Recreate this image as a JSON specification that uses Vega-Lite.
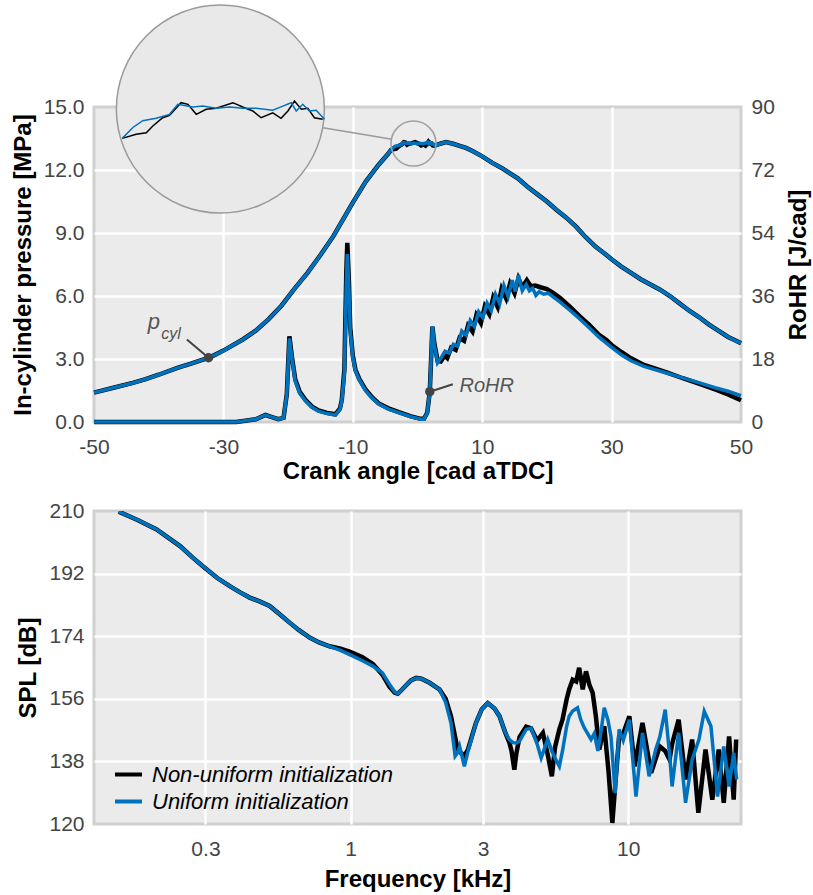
{
"$schema":"https://vega.github.io/schema/vega-lite/v6.json",
"padding":{"left":9,"top":0,"right":5,"bottom":5},
"background":"white",
"spacing":89,
"bounds":"flush",
"config":{
 "font":"Liberation Sans",
 "view":{"fill":"#ebebeb","stroke":"#d0d0d0","strokeWidth":3},
 "axis":{"domain":false,"ticks":false,"gridColor":"white","gridWidth":2.5,"gridOpacity":1,"labelFontSize":21,"labelColor":"#444444","labelFont":"Liberation Sans","titleFont":"Liberation Sans","titleFontSize":24,"titleFontWeight":"bold","titleColor":"black","labelFlush":false,"labelOverlap":false}
},
"datasets":{
 "pN":[{"ca":-50,"p":1.40},{"ca":-47,"p":1.63},{"ca":-44,"p":1.86},{"ca":-42,"p":2.04},{"ca":-40,"p":2.25},{"ca":-37,"p":2.59},{"ca":-35,"p":2.78},{"ca":-32,"p":3.09},{"ca":-30,"p":3.40},{"ca":-27,"p":3.93},{"ca":-25,"p":4.35},{"ca":-23,"p":4.9},{"ca":-21,"p":5.55},{"ca":-19,"p":6.35},{"ca":-17,"p":7.1},{"ca":-15,"p":7.95},{"ca":-13,"p":8.85},{"ca":-11.5,"p":9.65},{"ca":-10,"p":10.45},{"ca":-8,"p":11.45},{"ca":-6,"p":12.25},{"ca":-4.6,"p":12.75},
  {"ca":-4.1,"p":12.958},{"ca":-3.63,"p":13.0},{"ca":-3.29,"p":13.016},{"ca":-3.07,"p":13.085},{"ca":-2.74,"p":13.17},{"ca":-2.51,"p":13.195},{"ca":-2.12,"p":13.325},{"ca":-1.89,"p":13.308},{"ca":-1.61,"p":13.205},{"ca":-1.28,"p":13.257},{"ca":-0.94,"p":13.267},{"ca":-0.38,"p":13.325},{"ca":-0.05,"p":13.28},{"ca":0.29,"p":13.24},{"ca":0.57,"p":13.17},{"ca":0.96,"p":13.22},{"ca":1.24,"p":13.164},{"ca":1.47,"p":13.24},{"ca":1.69,"p":13.342},{"ca":1.92,"p":13.257},{"ca":2.14,"p":13.267},{"ca":2.36,"p":13.17},{"ca":2.64,"p":13.154},
  {"ca":3.5,"p":13.25},{"ca":4.4,"p":13.33},{"ca":5.5,"p":13.25},{"ca":6.5,"p":13.15},{"ca":7.5,"p":13.05},{"ca":8.5,"p":12.9},{"ca":10,"p":12.65},{"ca":11.5,"p":12.35},{"ca":13,"p":12.1},{"ca":14,"p":11.9},{"ca":15.5,"p":11.6},{"ca":17,"p":11.2},{"ca":18.5,"p":10.85},{"ca":20,"p":10.5},{"ca":21.5,"p":10.1},{"ca":23,"p":9.73},{"ca":24.5,"p":9.3},{"ca":26,"p":8.8},{"ca":27.5,"p":8.35},{"ca":29,"p":8.0},{"ca":30,"p":7.75},{"ca":31.5,"p":7.4},{"ca":33,"p":7.1},{"ca":34.5,"p":6.8},{"ca":36,"p":6.55},{"ca":37.5,"p":6.3},{"ca":39,"p":6.0},{"ca":40.5,"p":5.65},{"ca":42,"p":5.3},{"ca":43.5,"p":5.0},{"ca":45,"p":4.65},{"ca":46.5,"p":4.35},{"ca":48,"p":4.05},{"ca":49,"p":3.9},{"ca":50,"p":3.75}],
 "pU":[{"ca":-50,"p":1.40},{"ca":-47,"p":1.63},{"ca":-44,"p":1.86},{"ca":-42,"p":2.04},{"ca":-40,"p":2.25},{"ca":-37,"p":2.59},{"ca":-35,"p":2.78},{"ca":-32,"p":3.09},{"ca":-30,"p":3.40},{"ca":-27,"p":3.93},{"ca":-25,"p":4.35},{"ca":-23,"p":4.9},{"ca":-21,"p":5.55},{"ca":-19,"p":6.35},{"ca":-17,"p":7.1},{"ca":-15,"p":7.95},{"ca":-13,"p":8.85},{"ca":-11.5,"p":9.65},{"ca":-10,"p":10.45},{"ca":-8,"p":11.45},{"ca":-6,"p":12.25},{"ca":-4.6,"p":12.75},
  {"ca":-4.1,"p":12.958},{"ca":-3.74,"p":13.07},{"ca":-3.41,"p":13.14},{"ca":-2.96,"p":13.164},{"ca":-2.51,"p":13.205},{"ca":-2.23,"p":13.308},{"ca":-1.73,"p":13.28},{"ca":-1.39,"p":13.29},{"ca":-0.94,"p":13.267},{"ca":-0.49,"p":13.28},{"ca":-0.05,"p":13.267},{"ca":0.40,"p":13.267},{"ca":0.96,"p":13.247},{"ca":1.30,"p":13.29},{"ca":1.58,"p":13.325},{"ca":1.75,"p":13.24},{"ca":1.97,"p":13.308},{"ca":2.19,"p":13.24},{"ca":2.42,"p":13.247},{"ca":2.7,"p":13.154},
  {"ca":3.5,"p":13.25},{"ca":4.4,"p":13.33},{"ca":5.5,"p":13.25},{"ca":6.5,"p":13.15},{"ca":7.5,"p":13.05},{"ca":8.5,"p":12.9},{"ca":10,"p":12.65},{"ca":11.5,"p":12.35},{"ca":13,"p":12.1},{"ca":14,"p":11.9},{"ca":15.5,"p":11.6},{"ca":17,"p":11.2},{"ca":18.5,"p":10.85},{"ca":20,"p":10.5},{"ca":21.5,"p":10.1},{"ca":23,"p":9.73},{"ca":24.5,"p":9.3},{"ca":26,"p":8.8},{"ca":27.5,"p":8.35},{"ca":29,"p":8.0},{"ca":30,"p":7.75},{"ca":31.5,"p":7.4},{"ca":33,"p":7.1},{"ca":34.5,"p":6.8},{"ca":36,"p":6.55},{"ca":37.5,"p":6.3},{"ca":39,"p":6.0},{"ca":40.5,"p":5.65},{"ca":42,"p":5.3},{"ca":43.5,"p":5.0},{"ca":45,"p":4.65},{"ca":46.5,"p":4.35},{"ca":48,"p":4.05},{"ca":49,"p":3.9},{"ca":50,"p":3.75}],
 "qN":[{"ca":-50,"q":0},{"ca":-28,"q":0},{"ca":-25,"q":0.8},{"ca":-23.5,"q":2.0},{"ca":-22.5,"q":1.4},{"ca":-21.5,"q":0.8},{"ca":-20.7,"q":1.2},{"ca":-20.2,"q":8},{"ca":-19.8,"q":24.5},{"ca":-19.4,"q":18.5},{"ca":-18.9,"q":12.2},{"ca":-18.2,"q":8.6},{"ca":-17.3,"q":6.3},{"ca":-16.3,"q":4.4},{"ca":-15.3,"q":3.3},{"ca":-14,"q":2.6},{"ca":-12.7,"q":2.2},{"ca":-12,"q":3.8},{"ca":-11.7,"q":6.3},{"ca":-11.3,"q":15},{"ca":-11.0,"q":43},{"ca":-10.85,"q":51.2},{"ca":-10.6,"q":40},{"ca":-10.4,"q":27},{"ca":-10.0,"q":19},{"ca":-9.6,"q":15},{"ca":-9.0,"q":12.3},{"ca":-8.0,"q":9.2},{"ca":-7,"q":7},{"ca":-6.0,"q":5.3},{"ca":-4.5,"q":3.9},{"ca":-2.9,"q":2.8},{"ca":-1,"q":1.6},{"ca":0.5,"q":0.9},{"ca":1.0,"q":0.9},{"ca":1.5,"q":2.6},{"ca":1.9,"q":8.6},{"ca":2.1,"q":18},{"ca":2.3,"q":27.2},{"ca":2.6,"q":22.5},{"ca":3.1,"q":17.5},{"ca":3.6,"q":17.3},{"ca":4.2,"q":19.0},{"ca":4.6,"q":18.3},{"ca":5.2,"q":21.2},{"ca":5.9,"q":20.6},{"ca":6.5,"q":24.0},{"ca":7.2,"q":23.2},{"ca":7.8,"q":27.5},{"ca":8.5,"q":25.8},{"ca":9.1,"q":30.5},{"ca":9.8,"q":28.3},{"ca":10.4,"q":33.0},{"ca":11.1,"q":30.8},{"ca":11.7,"q":35.5},{"ca":12.4,"q":32.8},{"ca":13.0,"q":38.0},{"ca":13.7,"q":35.3},{"ca":14.3,"q":39.5},{"ca":15.0,"q":36.8},{"ca":15.6,"q":41.0},{"ca":16.2,"q":38.5},{"ca":16.9,"q":40.5},{"ca":17.5,"q":38.8},{"ca":18.2,"q":39.0},{"ca":19.0,"q":38.5},{"ca":20.0,"q":38.0},{"ca":20.9,"q":37.0},{"ca":22,"q":35.5},{"ca":23.5,"q":33.0},{"ca":25,"q":30.3},{"ca":26.5,"q":27.8},{"ca":28,"q":25.0},{"ca":29.2,"q":23.4},{"ca":30.0,"q":22.0},{"ca":31.5,"q":20.0},{"ca":33,"q":18.2},{"ca":35,"q":16.3},{"ca":38.5,"q":14.2},{"ca":41,"q":12.5},{"ca":43.6,"q":10.9},{"ca":46,"q":9.3},{"ca":48,"q":7.9},{"ca":50,"q":6.2}],
 "qU":[{"ca":-50,"q":0},{"ca":-28,"q":0},{"ca":-25,"q":0.8},{"ca":-23.5,"q":2.0},{"ca":-22.5,"q":1.4},{"ca":-21.5,"q":0.8},{"ca":-20.7,"q":1.2},{"ca":-20.2,"q":8},{"ca":-19.8,"q":23.9},{"ca":-19.4,"q":18},{"ca":-18.9,"q":11.7},{"ca":-18.2,"q":8.2},{"ca":-17.3,"q":6},{"ca":-16.3,"q":4.2},{"ca":-15.3,"q":3.1},{"ca":-14,"q":2.4},{"ca":-12.7,"q":2.0},{"ca":-12,"q":3.5},{"ca":-11.7,"q":6},{"ca":-11.3,"q":14},{"ca":-11.0,"q":40},{"ca":-10.85,"q":48},{"ca":-10.6,"q":38},{"ca":-10.4,"q":26},{"ca":-10.0,"q":18.5},{"ca":-9.6,"q":14.6},{"ca":-9.0,"q":12},{"ca":-8.0,"q":8.9},{"ca":-7,"q":6.8},{"ca":-6.0,"q":5.1},{"ca":-4.5,"q":3.7},{"ca":-2.9,"q":2.7},{"ca":-1,"q":1.5},{"ca":0.5,"q":0.8},{"ca":1.0,"q":0.8},{"ca":1.5,"q":2.5},{"ca":1.9,"q":8.6},{"ca":2.1,"q":18},{"ca":2.3,"q":27.4},{"ca":2.6,"q":22},{"ca":3.1,"q":16.9},{"ca":3.6,"q":18.2},{"ca":4.25,"q":20.2},{"ca":4.9,"q":19.7},{"ca":5.55,"q":22.2},{"ca":6.2,"q":21.7},{"ca":6.85,"q":26.0},{"ca":7.5,"q":24.8},{"ca":8.15,"q":29.0},{"ca":8.8,"q":27.3},{"ca":9.45,"q":31.5},{"ca":10.1,"q":29.8},{"ca":10.75,"q":34.0},{"ca":11.4,"q":31.8},{"ca":12.05,"q":36.5},{"ca":12.7,"q":33.8},{"ca":13.35,"q":39.0},{"ca":14.0,"q":35.8},{"ca":14.65,"q":40.5},{"ca":15.1,"q":37.3},{"ca":15.6,"q":42.0},{"ca":16.2,"q":37.5},{"ca":16.8,"q":39.3},{"ca":17.3,"q":37.5},{"ca":17.8,"q":38.2},{"ca":18.3,"q":36.2},{"ca":18.8,"q":37.2},{"ca":19.5,"q":36.5},{"ca":20.2,"q":36.8},{"ca":20.9,"q":35.8},{"ca":22,"q":34.3},{"ca":23.5,"q":32.0},{"ca":25,"q":29.6},{"ca":26.5,"q":27.0},{"ca":28,"q":24.3},{"ca":30,"q":21.3},{"ca":31.5,"q":19.2},{"ca":33,"q":17.5},{"ca":35,"q":15.9},{"ca":38.5,"q":14.0},{"ca":41,"q":12.6},{"ca":43.6,"q":11.2},{"ca":46,"q":9.8},{"ca":48,"q":8.8},{"ca":50,"q":7.5}],
 "notes":[{"k":"big","ca":-0.8,"p":13.26},{"k":"small","ca":-0.62,"p":13.26},{"k":"conn","ca":-14.6,"p":14.01,"ca2":-3.95,"p2":13.46},{"k":"pdot","ca":-32.3,"p":3.06,"ca2":-35.65,"p2":3.93},{"k":"qdot","ca":1.9,"q":8.66,"ca2":5.46,"q2":10.8},{"k":"ptext","ca":-41.7,"p":4.45,"label":"p"},{"k":"psub","ca":-39.6,"p":3.97,"label":"cyl"},{"k":"qtext","ca":6.49,"q":8.7,"label":"RoHR"}],
 "sN":[{"f":0.146,"spl":209.8},{"f":0.17,"spl":207.5},{"f":0.2,"spl":204.7},{"f":0.243,"spl":199.9},{"f":0.27,"spl":196.6},{"f":0.298,"spl":193.7},{"f":0.33,"spl":190.8},{"f":0.367,"spl":188.4},{"f":0.4,"spl":186.6},{"f":0.433,"spl":185.1},{"f":0.47,"spl":184.0},{"f":0.511,"spl":182.7},{"f":0.55,"spl":180.6},{"f":0.603,"spl":177.9},{"f":0.65,"spl":175.8},{"f":0.712,"spl":173.6},{"f":0.77,"spl":172.2},{"f":0.84,"spl":171.1},{"f":0.92,"spl":170.4},{"f":0.992,"spl":169.6},{"f":1.1,"spl":168.0},{"f":1.203,"spl":166.0},{"f":1.3,"spl":163.0},{"f":1.38,"spl":159.5},{"f":1.44,"spl":157.8},{"f":1.48,"spl":157.5},{"f":1.53,"spl":158.6},{"f":1.586,"spl":159.9},{"f":1.65,"spl":161.3},{"f":1.724,"spl":162.0},{"f":1.8,"spl":161.8},{"f":1.925,"spl":160.6},{"f":2.09,"spl":158.7},{"f":2.2,"spl":156},{"f":2.3,"spl":151},{"f":2.38,"spl":145},{"f":2.43,"spl":141.5},{"f":2.5,"spl":140.4},{"f":2.57,"spl":139.6},{"f":2.65,"spl":141.5},{"f":2.83,"spl":149.1},{"f":2.97,"spl":153.0},{"f":3.12,"spl":154.8},{"f":3.3,"spl":153.2},{"f":3.44,"spl":151.0},{"f":3.6,"spl":146.5},{"f":3.73,"spl":143.5},{"f":3.8,"spl":141},{"f":3.89,"spl":135.6},{"f":3.95,"spl":140},{"f":4.06,"spl":145},{"f":4.29,"spl":148},{"f":4.47,"spl":147.5},{"f":4.7,"spl":144},{"f":4.93,"spl":146.2},{"f":5.13,"spl":140},{"f":5.31,"spl":133.7},{"f":5.45,"spl":142},{"f":5.65,"spl":147.2},{"f":5.8,"spl":150},{"f":6.0,"spl":155.8},{"f":6.13,"spl":158.7},{"f":6.31,"spl":161.5},{"f":6.5,"spl":161},{"f":6.66,"spl":164.9},{"f":6.86,"spl":158.7},{"f":7.05,"spl":163.9},{"f":7.25,"spl":160},{"f":7.45,"spl":157.7},{"f":7.65,"spl":151.0},{"f":7.87,"spl":141.4},{"f":8.2,"spl":148.1},{"f":8.5,"spl":135},{"f":8.77,"spl":120.3},{"f":9.0,"spl":132},{"f":9.28,"spl":145.2},{"f":9.6,"spl":146},{"f":10.1,"spl":151.0},{"f":10.55,"spl":136.6},{"f":11.26,"spl":149.1},{"f":12.1,"spl":134.7},{"f":12.99,"spl":142.3},{"f":13.6,"spl":141},{"f":14.1,"spl":138.5},{"f":14.4,"spl":143},{"f":15.2,"spl":150.0},{"f":16.1,"spl":132.8},{"f":17.0,"spl":144.3},{"f":17.9,"spl":123.2},{"f":19.0,"spl":141.4},{"f":20.1,"spl":127.0},{"f":21.2,"spl":141.4},{"f":22.1,"spl":126.1},{"f":23.1,"spl":145.2},{"f":24.0,"spl":127.0},{"f":24.5,"spl":144.3}],
 "sU":[{"f":0.146,"spl":209.8},{"f":0.17,"spl":207.5},{"f":0.2,"spl":204.7},{"f":0.243,"spl":199.9},{"f":0.27,"spl":196.6},{"f":0.298,"spl":193.7},{"f":0.33,"spl":190.8},{"f":0.367,"spl":188.4},{"f":0.4,"spl":186.6},{"f":0.433,"spl":185.1},{"f":0.47,"spl":184.0},{"f":0.511,"spl":182.7},{"f":0.55,"spl":180.6},{"f":0.603,"spl":177.9},{"f":0.65,"spl":175.8},{"f":0.712,"spl":173.6},{"f":0.77,"spl":172.2},{"f":0.84,"spl":171.1},{"f":0.92,"spl":169.9},{"f":0.992,"spl":168.7},{"f":1.1,"spl":167.0},{"f":1.203,"spl":165.4},{"f":1.3,"spl":163.5},{"f":1.38,"spl":160.2},{"f":1.44,"spl":158.0},{"f":1.48,"spl":157.5},{"f":1.53,"spl":158.6},{"f":1.586,"spl":159.9},{"f":1.65,"spl":161.3},{"f":1.724,"spl":162.0},{"f":1.8,"spl":161.8},{"f":1.925,"spl":160.6},{"f":2.09,"spl":158.7},{"f":2.2,"spl":155.0},{"f":2.3,"spl":149},{"f":2.38,"spl":139.5},{"f":2.43,"spl":140.5},{"f":2.47,"spl":142.3},{"f":2.57,"spl":136.6},{"f":2.65,"spl":141},{"f":2.83,"spl":149.1},{"f":2.97,"spl":153.0},{"f":3.12,"spl":154.8},{"f":3.3,"spl":153.2},{"f":3.44,"spl":151.0},{"f":3.6,"spl":146.5},{"f":3.73,"spl":144.3},{"f":3.85,"spl":143.4},{"f":3.95,"spl":143.3},{"f":4.06,"spl":143.8},{"f":4.29,"spl":147.2},{"f":4.47,"spl":147.6},{"f":4.7,"spl":143},{"f":4.86,"spl":139.0},{"f":5.13,"spl":144.3},{"f":5.31,"spl":141},{"f":5.45,"spl":139},{"f":5.65,"spl":136.6},{"f":5.8,"spl":141},{"f":6.0,"spl":148},{"f":6.13,"spl":151.0},{"f":6.31,"spl":152.5},{"f":6.57,"spl":153.4},{"f":6.75,"spl":150},{"f":6.95,"spl":147.6},{"f":7.15,"spl":146},{"f":7.35,"spl":144.3},{"f":7.55,"spl":146},{"f":7.78,"spl":141.0},{"f":8.0,"spl":147},{"f":8.2,"spl":153.4},{"f":8.45,"spl":150},{"f":8.67,"spl":145.2},{"f":8.98,"spl":128.9},{"f":9.28,"spl":147.2},{"f":9.6,"spl":144},{"f":10.1,"spl":150.0},{"f":10.67,"spl":127.9},{"f":11.26,"spl":146.2},{"f":11.9,"spl":133.7},{"f":12.57,"spl":141.4},{"f":13.0,"spl":145},{"f":13.6,"spl":152.9},{"f":14.1,"spl":140},{"f":14.4,"spl":130.8},{"f":15.2,"spl":146.2},{"f":16.1,"spl":126.1},{"f":17.0,"spl":138.5},{"f":17.99,"spl":144.3},{"f":18.8,"spl":152.4},{"f":19.87,"spl":148.1},{"f":21.0,"spl":127.9},{"f":22.1,"spl":142.3},{"f":23.1,"spl":130.8},{"f":24.0,"spl":140.4},{"f":24.6,"spl":132.8}]
},
"vconcat":[
 {
  "width":647,"height":315,
  "resolve":{"scale":{"x":"independent","y":"independent"}},
  "layer":[
   {"data":{"name":"pN"},"mark":{"type":"line","color":"black","strokeWidth":4.5},
    "encoding":{
     "x":{"field":"ca","type":"quantitative","scale":{"domain":[-50,50],"nice":false,"zero":false},
       "axis":{"orient":"bottom","values":[-50,-30,-10,10,30,50],"title":"Crank angle [cad aTDC]","labelExpr":"(datum.value < 0 ? '-' : '') + abs(datum.value)","labelPadding":14,"titlePadding":2,
         "gridColor":{"condition":{"test":"datum.value == -50 || datum.value == 50","value":"transparent"},"value":"white"}}},
     "y":{"field":"p","type":"quantitative","scale":{"domain":[0,15],"nice":false,"zero":false},
       "axis":{"orient":"left","values":[0,3,6,9,12,15],"format":".1f","title":"In-cylinder pressure [MPa]","labelPadding":10,"titlePadding":8,
         "gridColor":{"condition":{"test":"datum.value == 0 || datum.value == 15","value":"transparent"},"value":"white"}}}}},
   {"data":{"name":"pU"},"mark":{"type":"line","color":"#0072bd","strokeWidth":3.5},
    "encoding":{
     "x":{"field":"ca","type":"quantitative","scale":{"domain":[-50,50],"nice":false,"zero":false},"axis":null},
     "y":{"field":"p","type":"quantitative","scale":{"domain":[0,15],"nice":false,"zero":false},"axis":null}}},
   {"data":{"name":"qN"},"mark":{"type":"line","color":"black","strokeWidth":4.5},
    "encoding":{
     "x":{"field":"ca","type":"quantitative","scale":{"domain":[-50,50],"nice":false,"zero":false},"axis":null},
     "y":{"field":"q","type":"quantitative","scale":{"domain":[0,90],"nice":false,"zero":false},
       "axis":{"orient":"right","values":[0,18,36,54,72,90],"format":"d","grid":false,"title":"RoHR [J/cad]","titleAngle":270,"titleBaseline":"top","labelPadding":10,"titlePadding":12}}}},
   {"data":{"name":"qU"},"mark":{"type":"line","color":"#0072bd","strokeWidth":3.5},
    "encoding":{
     "x":{"field":"ca","type":"quantitative","scale":{"domain":[-50,50],"nice":false,"zero":false},"axis":null},
     "y":{"field":"q","type":"quantitative","scale":{"domain":[0,90],"nice":false,"zero":false},"axis":null}}},
   {"data":{"name":"notes"},"transform":[{"filter":"datum.k == 'conn'"}],
    "mark":{"type":"rule","color":"#9a9a9a","strokeWidth":1.5},
    "encoding":{
     "x":{"field":"ca","type":"quantitative","scale":{"domain":[-50,50],"nice":false,"zero":false},"axis":null},
     "x2":{"field":"ca2"},
     "y":{"field":"p","type":"quantitative","scale":{"domain":[0,15],"nice":false,"zero":false},"axis":null},
     "y2":{"field":"p2"}}},
   {"data":{"name":"notes"},"transform":[{"filter":"datum.k == 'big'"}],
    "mark":{"type":"point","shape":"circle","filled":true,"fill":"#e9e9e9","stroke":"#9a9a9a","strokeWidth":1.5,"opacity":1,"size":43264,"clip":false},
    "encoding":{
     "x":{"field":"ca","type":"quantitative","scale":{"domain":[-4.1,2.7],"range":[28.2,230.5],"nice":false,"zero":false},"axis":null},
     "y":{"field":"p","type":"quantitative","scale":{"domain":[12.19,14.33],"range":[106,-102],"nice":false,"zero":false},"axis":null}}},
   {"data":{"name":"pN"},"transform":[{"filter":{"field":"ca","range":[-4.1,2.7]}}],
    "mark":{"type":"line","color":"black","strokeWidth":1.5,"clip":false},
    "encoding":{
     "x":{"field":"ca","type":"quantitative","scale":{"domain":[-4.1,2.7],"range":[28.2,230.5],"nice":false,"zero":false},"axis":null},
     "y":{"field":"p","type":"quantitative","scale":{"domain":[12.19,14.33],"range":[106,-102],"nice":false,"zero":false},"axis":null}}},
   {"data":{"name":"pU"},"transform":[{"filter":{"field":"ca","range":[-4.1,2.7]}}],
    "mark":{"type":"line","color":"#0072bd","strokeWidth":1.5,"clip":false},
    "encoding":{
     "x":{"field":"ca","type":"quantitative","scale":{"domain":[-4.1,2.7],"range":[28.2,230.5],"nice":false,"zero":false},"axis":null},
     "y":{"field":"p","type":"quantitative","scale":{"domain":[12.19,14.33],"range":[106,-102],"nice":false,"zero":false},"axis":null}}},
   {"data":{"name":"notes"},"transform":[{"filter":"datum.k == 'small'"}],
    "mark":{"type":"point","shape":"circle","filled":false,"stroke":"#a0a0a0","strokeWidth":1.5,"opacity":1,"size":2025},
    "encoding":{
     "x":{"field":"ca","type":"quantitative","scale":{"domain":[-50,50],"nice":false,"zero":false},"axis":null},
     "y":{"field":"p","type":"quantitative","scale":{"domain":[0,15],"nice":false,"zero":false},"axis":null}}},
   {"data":{"name":"notes"},"transform":[{"filter":"datum.k == 'pdot'"}],
    "mark":{"type":"rule","color":"#444444","strokeWidth":2},
    "encoding":{
     "x":{"field":"ca","type":"quantitative","scale":{"domain":[-50,50],"nice":false,"zero":false},"axis":null},
     "x2":{"field":"ca2"},
     "y":{"field":"p","type":"quantitative","scale":{"domain":[0,15],"nice":false,"zero":false},"axis":null},
     "y2":{"field":"p2"}}},
   {"data":{"name":"notes"},"transform":[{"filter":"datum.k == 'pdot'"}],
    "mark":{"type":"point","shape":"circle","filled":true,"color":"#444444","opacity":1,"size":90},
    "encoding":{
     "x":{"field":"ca","type":"quantitative","scale":{"domain":[-50,50],"nice":false,"zero":false},"axis":null},
     "y":{"field":"p","type":"quantitative","scale":{"domain":[0,15],"nice":false,"zero":false},"axis":null}}},
   {"data":{"name":"notes"},"transform":[{"filter":"datum.k == 'qdot'"}],
    "mark":{"type":"rule","color":"#444444","strokeWidth":2},
    "encoding":{
     "x":{"field":"ca","type":"quantitative","scale":{"domain":[-50,50],"nice":false,"zero":false},"axis":null},
     "x2":{"field":"ca2"},
     "y":{"field":"q","type":"quantitative","scale":{"domain":[0,90],"nice":false,"zero":false},"axis":null},
     "y2":{"field":"q2"}}},
   {"data":{"name":"notes"},"transform":[{"filter":"datum.k == 'qdot'"}],
    "mark":{"type":"point","shape":"circle","filled":true,"color":"#444444","opacity":1,"size":90},
    "encoding":{
     "x":{"field":"ca","type":"quantitative","scale":{"domain":[-50,50],"nice":false,"zero":false},"axis":null},
     "y":{"field":"q","type":"quantitative","scale":{"domain":[0,90],"nice":false,"zero":false},"axis":null}}},
   {"data":{"name":"notes"},"transform":[{"filter":"datum.k == 'ptext'"}],
    "mark":{"type":"text","align":"left","baseline":"alphabetic","font":"Liberation Sans","fontStyle":"italic","fontSize":22,"color":"#555555"},
    "encoding":{
     "x":{"field":"ca","type":"quantitative","scale":{"domain":[-50,50],"nice":false,"zero":false},"axis":null},
     "y":{"field":"p","type":"quantitative","scale":{"domain":[0,15],"nice":false,"zero":false},"axis":null},
     "text":{"field":"label"}}},
   {"data":{"name":"notes"},"transform":[{"filter":"datum.k == 'psub'"}],
    "mark":{"type":"text","align":"left","baseline":"alphabetic","font":"Liberation Sans","fontStyle":"italic","fontSize":16,"color":"#555555"},
    "encoding":{
     "x":{"field":"ca","type":"quantitative","scale":{"domain":[-50,50],"nice":false,"zero":false},"axis":null},
     "y":{"field":"p","type":"quantitative","scale":{"domain":[0,15],"nice":false,"zero":false},"axis":null},
     "text":{"field":"label"}}},
   {"data":{"name":"notes"},"transform":[{"filter":"datum.k == 'qtext'"}],
    "mark":{"type":"text","align":"left","baseline":"alphabetic","font":"Liberation Sans","fontStyle":"italic","fontSize":20,"color":"#555555"},
    "encoding":{
     "x":{"field":"ca","type":"quantitative","scale":{"domain":[-50,50],"nice":false,"zero":false},"axis":null},
     "y":{"field":"q","type":"quantitative","scale":{"domain":[0,90],"nice":false,"zero":false},"axis":null},
     "text":{"field":"label"}}}
  ]
 },
 {
  "width":647,"height":313,
  "encoding":{
   "x":{"field":"f","type":"quantitative","scale":{"type":"log","domain":[0.119,25.5],"nice":false},
     "axis":{"values":[0.3,1,3,10],"format":"~g","title":"Frequency [kHz]","labelPadding":14,"titlePadding":8}},
   "y":{"field":"spl","type":"quantitative","scale":{"domain":[120,210],"nice":false,"zero":false},
     "axis":{"values":[120,138,156,174,192,210],"format":"d","title":"SPL [dB]","labelPadding":10,"titlePadding":8,
       "gridColor":{"condition":{"test":"datum.value == 120 || datum.value == 210","value":"transparent"},"value":"white"}}}
  },
  "layer":[
   {"data":{"name":"sN"},"mark":{"type":"line","strokeWidth":4.5,"clip":true},
    "encoding":{"color":{"datum":"Non-uniform initialization","type":"nominal",
      "scale":{"domain":["Non-uniform initialization","Uniform initialization"],"range":["#000000","#0072bd"]},
      "legend":{"orient":"none","legendX":19,"legendY":652,"title":null,"symbolType":"stroke","symbolStrokeWidth":4,"symbolSize":729,"labelFontSize":22,"labelFontStyle":"italic","labelColor":"black","labelFont":"Liberation Sans","labelLimit":500,"rowPadding":-1,"labelOffset":8}}}},
   {"data":{"name":"sU"},"mark":{"type":"line","strokeWidth":3.5,"clip":true},
    "encoding":{"color":{"datum":"Uniform initialization","type":"nominal"}}}
  ]
 }
]
}
